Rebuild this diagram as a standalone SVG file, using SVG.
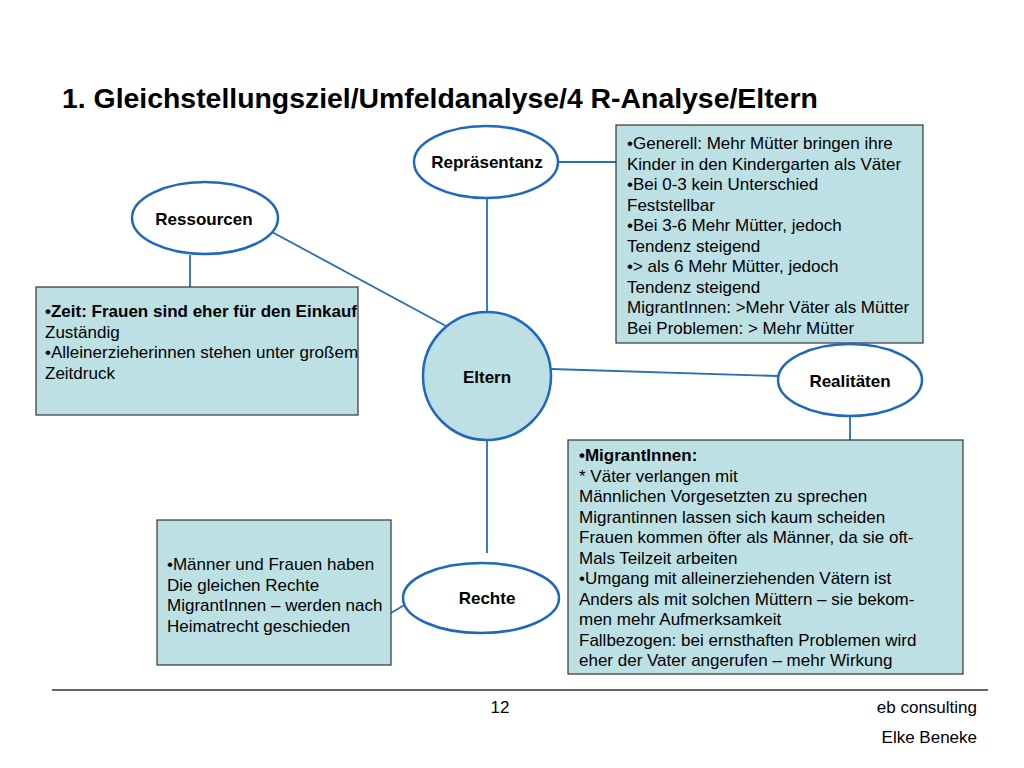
<svg xmlns="http://www.w3.org/2000/svg" width="1024" height="768" viewBox="0 0 1024 768">
<style>
.bg{fill:#ffffff}
.title{font-family:"Liberation Sans",Arial,sans-serif;font-size:28.4px;font-weight:bold;fill:#000}
.node{fill:#ffffff;stroke:#1f68bf;stroke-width:2.5}
.hub{fill:#bde0e4;stroke:#1f68bf;stroke-width:2.5}
.lbl{font-family:"Liberation Sans",Arial,sans-serif;font-size:17px;font-weight:bold;fill:#000;text-anchor:middle;dominant-baseline:central}
.box{fill:#bde0e4;stroke:#333333;stroke-width:1.2}
.txt{font-family:"Liberation Sans",Arial,sans-serif;font-size:17px;fill:#000}
.b{font-weight:bold}
.conn line{stroke:#2a6db8;stroke-width:1.8}
.foot{font-family:"Liberation Sans",Arial,sans-serif;font-size:17px;fill:#000}
</style>
<rect class="bg" x="0" y="0" width="1024" height="768"/>
<text class="title" x="62" y="108">1. Gleichstellungsziel/Umfeldanalyse/4 R-Analyse/Eltern</text>

<g id="connectors" class="conn">
<line x1="487" y1="198" x2="487" y2="312"/>
<line x1="558" y1="162" x2="616" y2="162"/>
<line x1="272" y1="232" x2="446" y2="326"/>
<line x1="190" y1="255" x2="190" y2="287"/>
<line x1="551" y1="369" x2="778" y2="376"/>
<line x1="850" y1="416" x2="850" y2="440"/>
<line x1="487" y1="440" x2="487" y2="553"/>
<line x1="406" y1="604" x2="391" y2="613"/>
</g>

<g id="box-ressourcen">
<rect class="box" x="36" y="287" width="322" height="128"/>
<text class="txt" x="45" y="317"><tspan class="b">•Zeit: Frauen sind eher für den Einkauf</tspan><tspan x="45" dy="20.5">Zuständig</tspan><tspan x="45" dy="20.5">•Alleinerzieherinnen stehen unter großem</tspan><tspan x="45" dy="20.5">Zeitdruck</tspan></text>
</g>

<g id="box-repraesentanz">
<rect class="box" x="616" y="125" width="307" height="218"/>
<text class="txt" x="627" y="149"><tspan>•Generell: Mehr Mütter bringen ihre</tspan><tspan x="627" dy="20.5">Kinder in den Kindergarten als Väter</tspan><tspan x="627" dy="20.5">•Bei 0-3 kein Unterschied</tspan><tspan x="627" dy="20.5">Feststellbar</tspan><tspan x="627" dy="20.5">•Bei 3-6 Mehr Mütter, jedoch</tspan><tspan x="627" dy="20.5">Tendenz steigend</tspan><tspan x="627" dy="20.5">•&gt; als 6 Mehr Mütter, jedoch</tspan><tspan x="627" dy="20.5">Tendenz steigend</tspan><tspan x="627" dy="20.5">MigrantInnen: &gt;Mehr Väter als Mütter</tspan><tspan x="627" dy="20.5">Bei Problemen: &gt; Mehr Mütter</tspan></text>
</g>

<g id="box-realitaeten">
<rect class="box" x="568" y="440" width="395" height="234"/>
<text class="txt" x="579" y="461"><tspan class="b">•MigrantInnen:</tspan><tspan x="579" dy="20.5">* Väter verlangen mit</tspan><tspan x="579" dy="20.5">Männlichen Vorgesetzten zu sprechen</tspan><tspan x="579" dy="20.5">Migrantinnen lassen sich kaum scheiden</tspan><tspan x="579" dy="20.5">Frauen kommen öfter als Männer, da sie oft-</tspan><tspan x="579" dy="20.5">Mals Teilzeit arbeiten</tspan><tspan x="579" dy="20.5">•Umgang mit alleinerziehenden Vätern ist</tspan><tspan x="579" dy="20.5">Anders als mit solchen Müttern – sie bekom-</tspan><tspan x="579" dy="20.5">men mehr Aufmerksamkeit</tspan><tspan x="579" dy="20.5">Fallbezogen: bei ernsthaften Problemen wird</tspan><tspan x="579" dy="20.5">eher der Vater angerufen – mehr Wirkung</tspan></text>
</g>

<g id="box-rechte">
<rect class="box" x="157" y="520" width="234" height="145"/>
<text class="txt" x="167" y="570"><tspan>•Männer und Frauen haben</tspan><tspan x="167" dy="20.5">Die gleichen Rechte</tspan><tspan x="167" dy="20.5">MigrantInnen – werden nach</tspan><tspan x="167" dy="20.5">Heimatrecht geschieden</tspan></text>
</g>

<g id="node-repraesentanz">
<ellipse class="node" cx="486" cy="162" rx="72" ry="36"/>
<text class="lbl" x="487" y="162">Repräsentanz</text>
</g>
<g id="node-ressourcen">
<ellipse class="node" cx="205" cy="218" rx="73" ry="36"/>
<text class="lbl" x="204" y="219">Ressourcen</text>
</g>
<g id="node-eltern">
<circle class="hub" cx="487" cy="376" r="64"/>
<text class="lbl" x="487" y="377">Eltern</text>
</g>
<g id="node-realitaeten">
<ellipse class="node" cx="850" cy="380" rx="72" ry="36"/>
<text class="lbl" x="850" y="381">Realitäten</text>
</g>
<g id="node-rechte">
<ellipse class="node" cx="481" cy="598" rx="78" ry="35"/>
<text class="lbl" x="487" y="598">Rechte</text>
</g>

<g id="footer">
<line x1="52" y1="690" x2="988" y2="690" stroke="#333333" stroke-width="1.5"/>
<text class="foot" x="500" y="713" text-anchor="middle">12</text>
<text class="foot" x="977" y="713" text-anchor="end">eb consulting</text>
<text class="foot" x="977" y="743" text-anchor="end">Elke Beneke</text>
</g>
</svg>
